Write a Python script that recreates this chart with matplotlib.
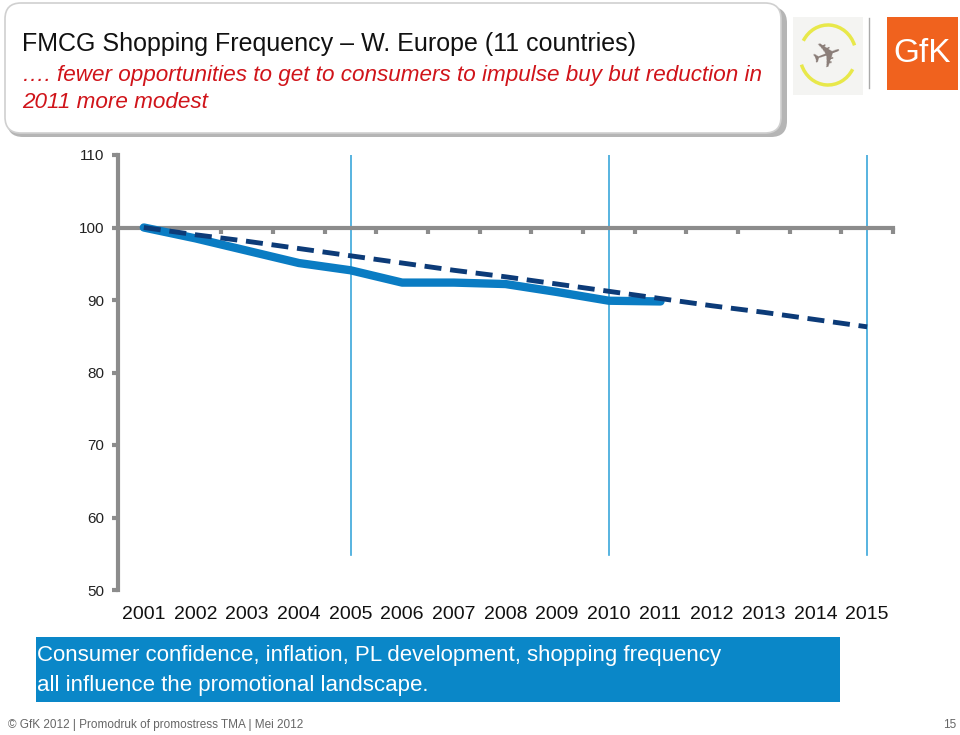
import matplotlib.pyplot as plt
from matplotlib.patches import FancyBboxPatch, Rectangle, Arc
from matplotlib.lines import Line2D
import matplotlib.transforms as mtransforms

years = ["2001", "2002", "2003", "2004", "2005", "2006", "2007", "2008",
         "2009", "2010", "2011", "2012", "2013", "2014", "2015"]
frequency = [100.0, 98.5, 96.8, 95.1, 94.1, 92.4, 92.4, 92.2, 91.1, 89.9, 89.8]
trend = [100.0, 99.0, 98.1, 97.1, 96.1, 95.1, 94.1, 93.2, 92.2, 91.2,
         90.2, 89.2, 88.3, 87.3, 86.3]
marker_years = ["2005", "2010", "2015"]
y_ticks = [50, 60, 70, 80, 90, 100, 110]

title = "FMCG Shopping Frequency – W. Europe (11 countries)"
subtitle = ("…. fewer opportunities to get to consumers to impulse buy but reduction in\n"
            "2011 more modest")
note = ("Consumer confidence, inflation, PL development, shopping frequency\n"
        "all influence the promotional landscape.")
footer = "© GfK 2012 | Promodruk of promostress TMA | Mei 2012"

plt.rcParams['font.family'] = ['Liberation Sans', 'DejaVu Sans']

fig = plt.figure(figsize=(9.6, 7.35), dpi=100)
W, H = 960, 735
inch = fig.dpi_scale_trans

# header box with shadow
fig.add_artist(FancyBboxPatch((0.07, 7.35 - 1.37), 7.80, 1.30,
                              boxstyle="round,pad=0,rounding_size=0.16",
                              transform=inch, fc="#b5b5b5", ec="none", zorder=0))
fig.add_artist(FancyBboxPatch((0.05, 7.35 - 1.33), 7.76, 1.30,
                              boxstyle="round,pad=0,rounding_size=0.16",
                              transform=inch, fc="white", ec="#d0d0d0", lw=1.2, zorder=1))
fig.text(22 / W, 1 - 43.5 / H, title, fontsize=18, color="#111111", va="center", zorder=2)
fig.text(22 / W, 1 - 89 / H, subtitle, fontsize=16.2, color="#d0141a", style="italic",
         va="center", linespacing=1.4, zorder=2)

# logos (rough)
fig.add_artist(Rectangle((7.93, 7.35 - 0.95), 0.70, 0.78, transform=inch,
                         fc="#f4f4f2", ec="none"))
for t1, t2 in [(20, 150), (200, 330)]:
    fig.add_artist(Arc((8.28, 7.35 - 0.55), 0.56, 0.60, theta1=t1, theta2=t2,
                       transform=inch, color="#e8e84a", lw=2.5))
fig.text(828 / W, 1 - 56 / H, "✈", fontsize=26, color="#8a7d78", ha="center", va="center",
         family="DejaVu Sans", rotation=20)
fig.add_artist(Line2D([8.69, 8.69], [7.35 - 0.88, 7.35 - 0.18], transform=inch,
                      color="#aaaaaa", lw=1))
fig.add_artist(Rectangle((8.87, 7.35 - 0.90), 0.71, 0.73, transform=inch,
                         fc="#f0621e", ec="none"))
fig.text(922 / W, 1 - 54 / H, "GfK", fontsize=24, color="white", ha="center", va="center")

# chart
ax = fig.add_axes([118 / W, 1 - 590 / H, 775 / W, 435 / H])
x = list(range(len(years)))
ax.set_xlim(-0.5, len(years) - 0.5)
ax.set_ylim(50, 110)

for yr in marker_years:
    ax.plot([years.index(yr)] * 2, [54.8, 110], color="#3ba7da", lw=1.2, zorder=1)

ax.plot(x[:len(frequency)], frequency, color="#0a7cc3", lw=6, solid_capstyle="round",
        solid_joinstyle="round", zorder=4)
ax.plot(x, trend, color="#0c3b78", lw=3.5, dashes=(3.5, 1.8), zorder=5)

for s in ["top", "right"]:
    ax.spines[s].set_visible(False)
ax.spines["left"].set_color("#8c8c8c")
ax.spines["left"].set_linewidth(3)
ax.spines["bottom"].set_color("#8c8c8c")
ax.spines["bottom"].set_linewidth(3)
ax.spines["bottom"].set_position(("data", 100))
ax.spines["bottom"].set_zorder(2)

ax.set_yticks(y_ticks)
ax.set_yticklabels([str(v) for v in y_ticks])
ax.tick_params(axis="y", length=4, width=3, color="#8c8c8c", labelsize=11,
               labelcolor="#222222", pad=6)
ax.set_xticks([i + 0.5 for i in x])
ax.set_xticklabels([])
ax.tick_params(axis="x", length=4, width=3, color="#8c8c8c", direction="out")

trans = mtransforms.blended_transform_factory(ax.transData, ax.transAxes)
for i, yr in enumerate(years):
    ax.text(i, -0.057, yr, transform=trans, ha="center", va="center", fontsize=14,
            color="#111111")

# bottom note box
fig.add_artist(Rectangle((36 / W, 1 - 702 / H), 804 / W, 65 / H, transform=fig.transFigure,
                         fc="#0a87c8", ec="none"))
fig.text(37 / W, 1 - 670.5 / H, note, fontsize=16, color="white", va="center",
         linespacing=1.6)

fig.text(8 / W, 1 - 725 / H, footer, fontsize=8.5, color="#666666", va="center")
fig.text(950 / W, 1 - 725 / H, "15", fontsize=8.5, color="#666666", va="center", ha="center")

fig.savefig("out.png", dpi=100)
